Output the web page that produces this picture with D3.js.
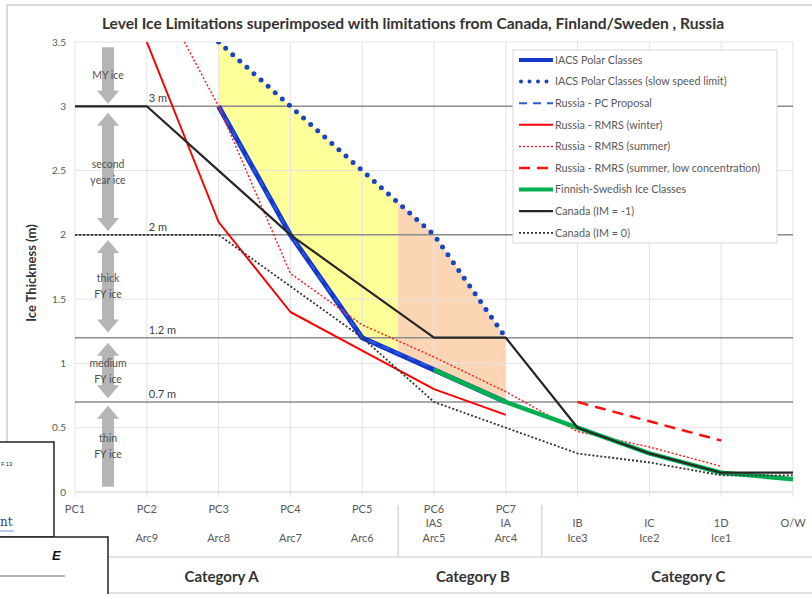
<!DOCTYPE html>
<meta charset="utf-8">
<style>
    body { margin: 0; background: #fff; }
    text { font-family: Lato, "Open Sans", sans-serif; fill: #595959; }
    .grid line { stroke: #e3e3e3; stroke-width: 1; }
    .ref line { stroke: #8c8c8c; stroke-width: 1.5; }
    .series path { fill: none; }
</style>
<svg id="mainSVG" width="812" height="594"></svg>
<script src="https://d3js.org/d3.v7.min.js"></script>
<script>
    // ---- data ----
    var categories = ["PC1", "PC2", "PC3", "PC4", "PC5", "PC6", "PC7", "IB", "IC", "1D", "O/W"];
    var labelLine1 = ["PC1", "PC2", "PC3", "PC4", "PC5", "PC6", "PC7", "", "", "", ""];
    var labelLine2 = ["", "", "", "", "", "IAS", "IA", "IB", "IC", "1D", "O/W"];
    var labelLine3 = ["", "Arc9", "Arc8", "Arc7", "Arc6", "Arc5", "Arc4", "Ice3", "Ice2", "Ice1", ""];

    var iacs          = [null, null, 3.0, 2.0, 1.2, 0.95, 0.7, null, null, null, null];
    var iacsSlow      = [null, null, 3.5, 3.0, 2.5, 2.0, 1.2, null, null, null, null];
    var russiaPC      = [null, null, 3.0, 2.0, 1.2, 0.96, 0.7, null, null, null, null];
    var rmrsWinter    = [null, 3.5, 2.1, 1.4, 1.1, 0.8, 0.6, null, null, null, null];
    var rmrsSummer    = [null, 4.05, 3.0, 1.7, 1.3, 1.05, 0.78, 0.47, 0.35, 0.2, null];
    var rmrsSummerLow = [null, null, null, null, null, null, null, 0.7, 0.55, 0.4, null];
    var finnSwed      = [null, null, null, null, null, 0.95, 0.7, 0.5, 0.3, 0.15, 0.1];
    var canadaM1      = [3.0, 3.0, 2.5, 2.0, 1.6, 1.2, 1.2, 0.5, 0.3, 0.15, 0.15];
    var canada0       = [2.0, 2.0, 2.0, 1.6, 1.2, 0.7, 0.5, 0.3, 0.23, 0.13, 0.13];

    var yTicks = [0, 0.5, 1, 1.5, 2, 2.5, 3, 3.5];
    var refValues = [3, 2, 1.2, 0.7];
    var refLabels = ["3 m", "2 m", "1.2 m", "0.7 m"];

    var bandNames = [["MY ice"], ["second", "year ice"], ["thick", "FY ice"], ["medium", "FY ice"], ["thin", "FY ice"]];
    var bandTop = [3.46, 2.95, 1.96, 1.16, 0.67];
    var bandBottom = [3.02, 2.03, 1.24, 0.73, 0.04];
    var bandHeadUp = [false, true, true, true, true];
    var bandHeadDown = [true, true, true, true, false];

    var groupNames = ["Category A", "Category B", "Category C"];
    var groupFirst = ["PC1", "PC6", "IB"];
    var groupLast = ["PC5", "PC7", "O/W"];

    var title = "Level Ice Limitations superimposed with limitations from Canada, Finland/Sweden , Russia";

    // ---- series styles ----
    var series = [
        { name: "IACS Polar Classes", values: iacs, color: "#1438c8", width: 5, dash: null },
        { name: "IACS Polar Classes (slow speed limit)", values: iacsSlow, color: "#1a44c4", width: 5, dash: "0 9.5", cap: "round" },
        { name: "Russia - PC Proposal", values: russiaPC, color: "#2a5ae0", width: 2, dash: "8 6" },
        { name: "Russia - RMRS (winter)", values: rmrsWinter, color: "#ff0000", width: 2, dash: null },
        { name: "Russia - RMRS (summer)", values: rmrsSummer, color: "#ff2020", width: 1.5, dash: "2 2" },
        { name: "Russia - RMRS (summer, low concentration)", values: rmrsSummerLow, color: "#ff1010", width: 2.5, dash: "11 7" },
        { name: "Finnish-Swedish Ice Classes", values: finnSwed, color: "#00b050", width: 4.5, dash: null },
        { name: "Canada (IM = -1)", values: canadaM1, color: "#262626", width: 2.2, dash: null },
        { name: "Canada (IM = 0)", values: canada0, color: "#333333", width: 1.8, dash: "2 2" }
    ];

    var svg = d3.select("svg");
    var plotL = 75, plotR = 793, plotT = 42, plotB = 492;

    var x = d3.scalePoint().domain(categories).range([plotL, plotR]);
    var y = d3.scaleLinear().domain([0, 3.5]).range([plotB, plotT]);
    var step = x.step();

    // outer chart border
    svg.append("rect").attr("x", 7).attr("y", 5).attr("width", 830).attr("height", 620)
        .attr("fill", "#fff").attr("stroke", "#cfcfcf").attr("stroke-width", 1.5);

    var defs = svg.append("defs");
    defs.append("clipPath").attr("id", "plotClip")
        .append("rect").attr("x", plotL - 5).attr("y", plotT).attr("width", plotR - plotL + 10).attr("height", plotB - plotT);

    // ---- filled zones between IACS and slow speed limit ----
    var sepAB = (x("PC5") + x("PC6")) / 2;
    var sepBC = (x("PC7") + x("IB")) / 2;
    defs.append("clipPath").attr("id", "clipYellow").append("rect")
        .attr("x", x("PC3")).attr("y", plotT).attr("width", sepAB - x("PC3")).attr("height", plotB - plotT);
    defs.append("clipPath").attr("id", "clipPeach").append("rect")
        .attr("x", sepAB).attr("y", plotT).attr("width", x("PC7") - sepAB).attr("height", plotB - plotT);

    var zone = categories.map(function (c, i) { return { c: c, lo: iacs[i], hi: iacsSlow[i] }; })
        .filter(function (d) { return d.lo != null && d.hi != null; });
    var area = d3.area().x(function (d) { return x(d.c); })
        .y0(function (d) { return y(d.lo); }).y1(function (d) { return y(d.hi); });
    svg.append("path").datum(zone).attr("d", area).attr("fill", "#ffff99").attr("clip-path", "url(#clipYellow)");
    svg.append("path").datum(zone).attr("d", area).attr("fill", "#fcd5b4").attr("clip-path", "url(#clipPeach)");

    // ---- gridlines ----
    var grid = svg.append("g").attr("class", "grid");
    grid.selectAll(".h").data(yTicks).enter().append("line")
        .attr("x1", plotL).attr("x2", plotR).attr("y1", function (d) { return y(d); }).attr("y2", function (d) { return y(d); });
    grid.selectAll(".v").data(categories).enter().append("line")
        .attr("x1", function (d) { return x(d); }).attr("x2", function (d) { return x(d); })
        .attr("y1", plotT).attr("y2", plotB + 5);

    // y tick labels
    svg.append("g").selectAll("text").data(yTicks).enter().append("text")
        .attr("x", 66).attr("y", function (d) { return y(d) + 3.5; })
        .attr("text-anchor", "end").style("font-size", "10px")
        .text(function (d) { return d3.format("~g")(d); });

    // ---- reference thickness lines ----
    var ref = svg.append("g").attr("class", "ref");
    ref.selectAll("line").data(refValues).enter().append("line")
        .attr("x1", plotL).attr("x2", plotR)
        .attr("y1", function (d) { return y(d); }).attr("y2", function (d) { return y(d); });
    ref.selectAll("text").data(refValues).enter().append("text")
        .attr("x", x("PC2") + 2).attr("y", function (d) { return y(d) - 4; })
        .style("font-size", "11px").style("fill", "#404040")
        .text(function (d, i) { return refLabels[i]; });

    // ---- ice type arrows ----
    var ax = x("PC1") + step * 0.46, sw = 6, hw = 11, hl = 13;
    var arrows = svg.append("g");
    bandNames.forEach(function (names, i) {
        var t = y(bandTop[i]), b = y(bandBottom[i]);
        var p = d3.path();
        if (bandHeadUp[i]) {
            p.moveTo(ax, t); p.lineTo(ax + hw, t + hl); p.lineTo(ax + sw, t + hl);
        } else {
            p.moveTo(ax + sw, t);
        }
        if (bandHeadDown[i]) {
            p.lineTo(ax + sw, b - hl); p.lineTo(ax + hw, b - hl); p.lineTo(ax, b);
            p.lineTo(ax - hw, b - hl); p.lineTo(ax - sw, b - hl);
        } else {
            p.lineTo(ax + sw, b); p.lineTo(ax - sw, b);
        }
        if (bandHeadUp[i]) {
            p.lineTo(ax - sw, t + hl); p.lineTo(ax - hw, t + hl);
        } else {
            p.lineTo(ax - sw, t);
        }
        p.closePath();
        arrows.append("path").attr("d", p.toString()).attr("fill", "#b5b5b5");

        var mid = y((bandTop[i] + bandBottom[i]) / 2);
        var tx = arrows.append("text").attr("text-anchor", "middle").style("font-size", "10.5px").style("fill", "#505050");
        names.forEach(function (n, k) {
            tx.append("tspan").attr("x", ax).attr("y", mid + 4 + (k - (names.length - 1) / 2) * 16).text(n);
        });
    });

    // ---- series lines ----
    var line = d3.line()
        .defined(function (d) { return d != null; })
        .x(function (d, i) { return x(categories[i]); })
        .y(function (d) { return y(d); });

    var sg = svg.append("g").attr("class", "series").attr("clip-path", "url(#plotClip)");
    series.forEach(function (s) {
        sg.append("path").datum(s.values).attr("d", line)
            .attr("stroke", s.color).attr("stroke-width", s.width)
            .attr("stroke-dasharray", s.dash)
            .attr("stroke-linecap", s.cap || "butt")
            .attr("stroke-linejoin", "round");
    });

    // ---- category axis ----
    svg.append("line").attr("x1", plotL).attr("x2", plotR).attr("y1", plotB).attr("y2", plotB)
        .attr("stroke", "#d9d9d9");
    var labelRows = [labelLine1, labelLine2, labelLine3];
    labelRows.forEach(function (row, r) {
        svg.append("g").selectAll("text").data(row).enter().append("text")
            .attr("x", function (d, i) { return x(categories[i]); })
            .attr("y", 512.5 + r * 14.5)
            .attr("text-anchor", "middle").style("font-size", "11px")
            .text(function (d) { return d; });
    });
    [sepAB, sepBC].forEach(function (sx) {
        svg.append("line").attr("x1", sx).attr("x2", sx).attr("y1", 505).attr("y2", 557)
            .attr("stroke", "#d9d9d9").attr("stroke-width", 1.5);
    });
    [557, 593].forEach(function (ly) {
        svg.append("line").attr("x1", 30).attr("x2", 812).attr("y1", ly).attr("y2", ly)
            .attr("stroke", "#d9d9d9").attr("stroke-width", 1.5);
    });
    svg.append("g").selectAll("text").data(groupNames).enter().append("text")
        .attr("x", function (d, i) { return (x(groupFirst[i]) + x(groupLast[i])) / 2 + 3; })
        .attr("y", 582).attr("text-anchor", "middle")
        .style("font-size", "15px").style("font-weight", "bold").style("fill", "#333")
        .text(function (d) { return d; });

    // ---- axis title & chart title ----
    svg.append("text").attr("transform", "translate(36," + ((plotT + plotB) / 2 + 6) + ") rotate(-90)")
        .attr("text-anchor", "middle").style("font-size", "13px").style("font-weight", "bold").style("fill", "#333")
        .text("Ice Thickness (m)");
    svg.append("text").attr("x", 413).attr("y", 29).attr("text-anchor", "middle")
        .style("font-size", "15.6px").style("font-weight", "bold").style("fill", "#333")
        .text(title);

    // ---- legend ----
    var lg = svg.append("g").attr("transform", "translate(513,50)");
    lg.append("rect").attr("width", 264).attr("height", 193).attr("fill", "#fff").attr("stroke", "#d9d9d9");
    series.forEach(function (s, i) {
        var ly = 10 + i * 21.6;
        lg.append("line").attr("x1", 6).attr("x2", 40).attr("y1", ly).attr("y2", ly)
            .attr("stroke", s.color).attr("stroke-width", Math.min(s.width, 4))
            .attr("stroke-dasharray", s.dash == null ? null : (s.cap ? "0 8.5" : s.dash))
            .attr("stroke-dashoffset", s.cap ? -2 : 0)
            .attr("stroke-linecap", s.cap || "butt");
        lg.append("text").attr("x", 42).attr("y", ly + 3.8).style("font-size", "10.8px").text(s.name);
    });

    // ---- overlapping page fragments at bottom left ----
    svg.append("rect").attr("x", -2).attr("y", 442).attr("width", 56).attr("height", 95)
        .attr("fill", "#fff").attr("stroke", "#222").attr("stroke-width", 1.5);
    svg.append("text").attr("x", 1).attr("y", 466).style("font-size", "6px").style("font-family", "Liberation Sans").style("fill", "#333").text("F.13");
    svg.append("text").attr("x", 0).attr("y", 526).style("font-size", "12px").style("font-family", "DejaVu Serif").style("fill", "#2f4a7a").text("nt");
    svg.append("line").attr("x1", 0).attr("x2", 14).attr("y1", 531).attr("y2", 531).attr("stroke", "#6f9fd8");
    svg.append("rect").attr("x", -2).attr("y", 537).attr("width", 110).attr("height", 60)
        .attr("fill", "#fff").attr("stroke", "#222").attr("stroke-width", 1.5);
    svg.append("text").attr("x", 52).attr("y", 560).style("font-size", "13px").style("font-family", "Liberation Sans")
        .style("font-weight", "bold").style("font-style", "italic").style("fill", "#111").text("E");
    svg.append("line").attr("x1", 0).attr("x2", 65).attr("y1", 576).attr("y2", 576).attr("stroke", "#666");
</script>
